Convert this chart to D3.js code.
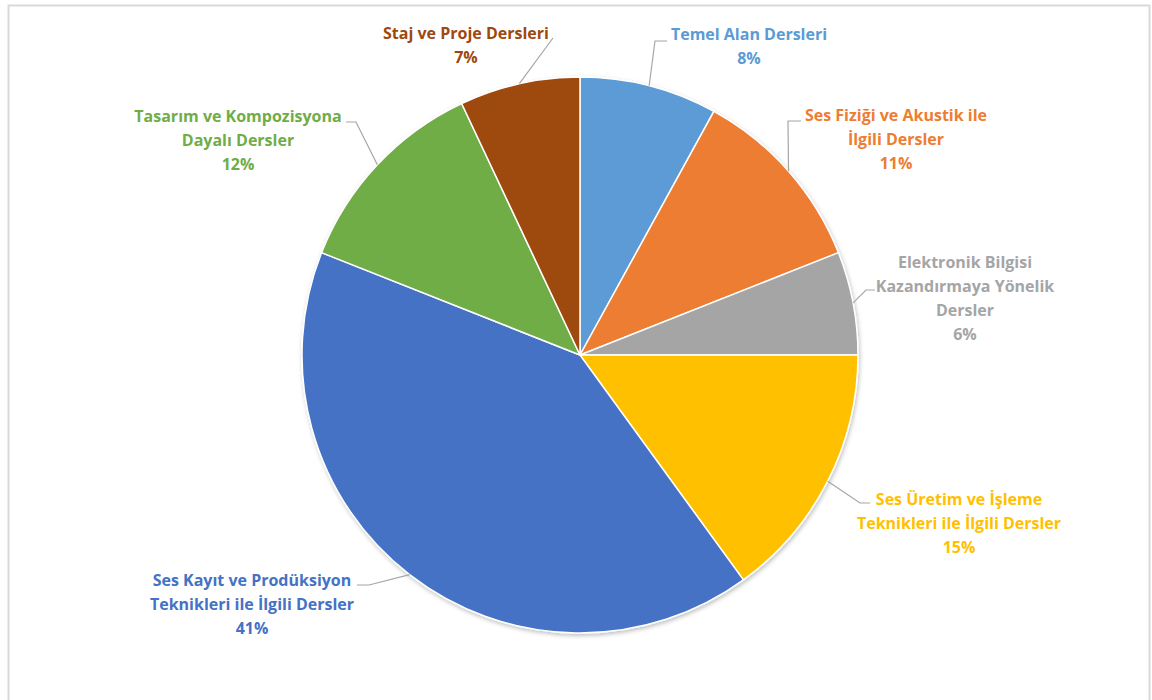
<!DOCTYPE html>
<html lang="tr">
<head>
<meta charset="UTF-8">
<title>Ders Dağılımı</title>
<script src="https://d3js.org/d3.v7.min.js"></script>
<style>
  body { margin: 0; background: #fff; }
  svg { display: block; }
  .lbl { font-family: "Open Sans", Lato, sans-serif; font-weight: bold; font-size: 16px; }
</style>
</head>
<body>
<svg id="chart" width="1152" height="700"></svg>
<script>
// data, clockwise from 12 o'clock
const categories = [
  ["Temel Alan Dersleri"],
  ["Ses Fiziği ve Akustik ile", "İlgili Dersler"],
  ["Elektronik Bilgisi", "Kazandırmaya Yönelik", "Dersler"],
  ["Ses Üretim ve İşleme", "Teknikleri ile İlgili Dersler"],
  ["Ses Kayıt ve Prodüksiyon", "Teknikleri ile İlgili Dersler"],
  ["Tasarım ve Kompozisyona", "Dayalı Dersler"],
  ["Staj ve Proje Dersleri"]
];
const values = [8, 11, 6, 15, 41, 12, 7];
const colors = ["#5B9BD5", "#ED7D31", "#A5A5A5", "#FFC000", "#4472C4", "#70AD47", "#9E480E"];

// label box placement: centre x, first baseline, leader attach point, elbow x
const labelPos = [
  { cx: 749, y: 40, ax: 667, ay: 41, ex: 655 },
  { cx: 896, y: 121, ax: 801, ay: 121, ex: 788 },
  { cx: 965, y: 268, ax: 875, ay: 290, ex: 866 },
  { cx: 959, y: 505, ax: 870, ay: 503, ex: 860 },
  { cx: 252, y: 586, ax: 357, ay: 585, ex: 369 },
  { cx: 238, y: 122, ax: 346, ay: 122, ex: 356 },
  { cx: 466, y: 39, ax: 553, ay: 38, ex: 553 }
];

const svg = d3.select("#chart");
const cx = 580, cy = 355, r = 278;
const lineH = 24;

// chart frame
svg.append("rect")
  .attr("x", 8.5).attr("y", 5.5)
  .attr("width", 1141).attr("height", 720)
  .attr("fill", "#fff")
  .attr("stroke", "#d9d9d9").attr("stroke-width", 2);

const defs = svg.append("defs");
defs.append("filter").attr("id", "shadow")
  .attr("x", "-10%").attr("y", "-10%").attr("width", "120%").attr("height", "120%")
  .append("feDropShadow")
  .attr("dx", 1).attr("dy", 2).attr("stdDeviation", 2)
  .attr("flood-color", "#000").attr("flood-opacity", 0.25);

const total = d3.sum(values);
const pie = d3.pie().sort(null).value(d => d)(values);
const arc = d3.arc().innerRadius(0).outerRadius(r);

const g = svg.append("g").attr("transform", `translate(${cx},${cy})`);

g.append("g").attr("filter", "url(#shadow)")
  .selectAll("path")
  .data(pie)
  .join("path")
  .attr("d", arc)
  .attr("fill", (d, i) => colors[i])
  .attr("stroke", "#fff")
  .attr("stroke-width", 1.5);

// leader lines
const edge = d => {
  const a = (d.startAngle + d.endAngle) / 2;
  return [cx + r * Math.sin(a), cy - r * Math.cos(a)];
};
svg.append("g")
  .selectAll("polyline")
  .data(pie)
  .join("polyline")
  .attr("points", (d, i) => {
    const p = labelPos[i];
    const e = edge(d);
    return [[p.ax, p.ay], [p.ex, p.ay], e].map(q => q.join(",")).join(" ");
  })
  .attr("fill", "none")
  .attr("stroke", "#a6a6a6")
  .attr("stroke-width", 1.2);

// labels
const fmt = d3.format(".0%");
const lbl = svg.append("g")
  .selectAll("text")
  .data(pie)
  .join("text")
  .attr("class", "lbl")
  .attr("text-anchor", "middle")
  .attr("fill", (d, i) => colors[i]);

lbl.each(function (d, i) {
  const t = d3.select(this);
  const p = labelPos[i];
  const lines = categories[i].concat([fmt(d.data / total)]);
  lines.forEach((s, k) => {
    t.append("tspan").attr("x", p.cx).attr("y", p.y + k * lineH).text(s);
  });
});
</script>
</body>
</html>
